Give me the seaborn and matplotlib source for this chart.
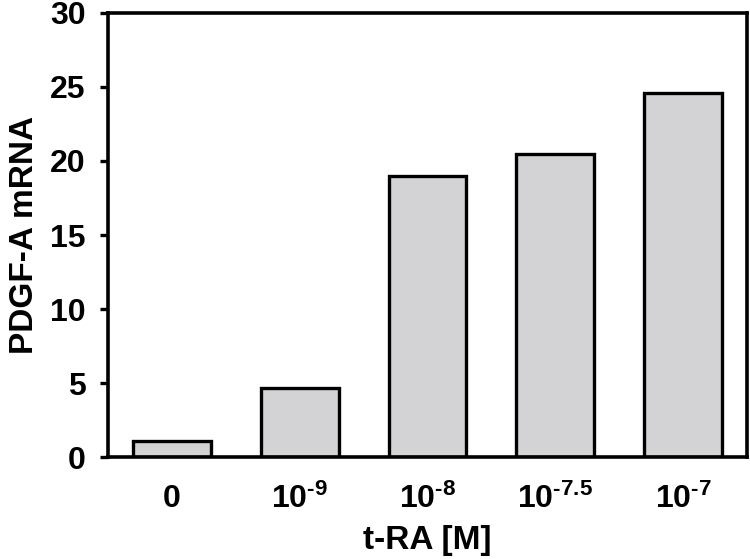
import matplotlib
matplotlib.use("Agg")
import matplotlib.pyplot as plt
import seaborn as sns
import pandas as pd

# ------------------------------
# Data
# ------------------------------
doses = ["0", "1e-9", "1e-8", "1e-7.5", "1e-7"]
dose_labels = ["0", r"$10^{\text{-9}}$", r"$10^{\text{-8}}$",
               r"$10^{\text{-7.5}}$", r"$10^{\text{-7}}$"]
mrna = [1.1, 4.7, 19.0, 20.5, 24.6]
y_ticks = [0, 5, 10, 15, 20, 25, 30]

df = pd.DataFrame({"dose": doses, "mrna": mrna})

sns.set_style("white")
plt.rcParams["font.family"] = ["Liberation Sans", "DejaVu Sans"]
plt.rcParams["font.weight"] = "bold"
plt.rcParams["text.color"] = "black"
plt.rcParams["axes.labelcolor"] = "black"
plt.rcParams["xtick.color"] = "black"
plt.rcParams["ytick.color"] = "black"
plt.rcParams["mathtext.fontset"] = "custom"
plt.rcParams["mathtext.rm"] = "Liberation Sans:bold"
plt.rcParams["mathtext.it"] = "Liberation Sans:bold"
plt.rcParams["mathtext.bf"] = "Liberation Sans:bold"

fig = plt.figure(figsize=(7.5, 5.59), dpi=100)
ax = fig.add_axes([0.144, 0.182, 0.852, 0.795])

sns.barplot(data=df, x="dose", y="mrna", color="#d3d3d5", saturation=1,
            edgecolor="black", linewidth=2.4, width=0.61, ax=ax)

ax.set_xlim(-0.5, 4.5)
ax.set_ylim(0, 30)
ax.set_yticks(y_ticks)
ax.set_yticklabels([str(t) for t in y_ticks], fontsize=23, fontweight="bold")
ax.set_xticks(range(len(doses)))
ax.set_xticklabels(dose_labels, fontsize=23, fontweight="bold")
ax.tick_params(axis="y", direction="out", length=6, width=2.4, left=True, pad=10)
ax.tick_params(axis="x", length=0, pad=19)

for s in ax.spines.values():
    s.set_linewidth(2.6)
    s.set_color("black")

ax.set_xlabel("t-RA [M]", fontsize=24, fontweight="bold", labelpad=7)
ax.set_ylabel("PDGF-A mRNA", fontsize=24, fontweight="bold", labelpad=7)

fig.savefig("out.png", dpi=100)
